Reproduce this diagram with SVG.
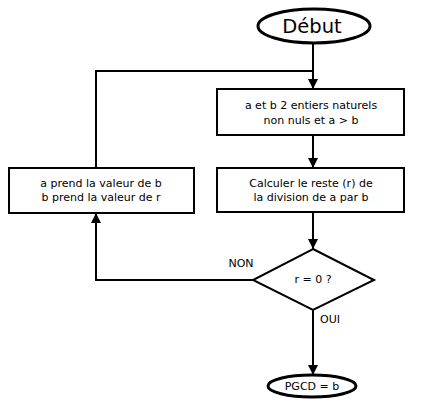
<svg xmlns="http://www.w3.org/2000/svg" width="425" height="412" viewBox="0 0 425 412">
<style>
text{font-family:"DejaVu Sans",Verdana,sans-serif;font-size:11px;fill:#000;text-anchor:middle}
.box{fill:#fff;stroke:#000;stroke-width:2}
.term{fill:#fff;stroke:#000;stroke-width:3}
.line{fill:none;stroke:#000;stroke-width:2}
</style>
<defs>
<marker id="arr" viewBox="0 0 10 10" refX="10" refY="5" markerWidth="10" markerHeight="10" markerUnits="userSpaceOnUse" orient="auto">
<path d="M0,0 L10,5 L0,10 Z" fill="#000"/>
</marker>
</defs>
<rect width="425" height="412" fill="#fff"/>
<g id="connectors">
<path class="line" d="M313,43 V89" marker-end="url(#arr)"/>
<path class="line" d="M96,168 V71 H313"/>
<path class="line" d="M313,135 V168" marker-end="url(#arr)"/>
<path class="line" d="M313,212 V249" marker-end="url(#arr)"/>
<path class="line" d="M253,280 H96 V213" marker-end="url(#arr)"/>
<path class="line" d="M313,310 V375" marker-end="url(#arr)"/>
<text x="241" y="267">NON</text>
<text x="320" y="323" style="text-anchor:start">OUI</text>
</g>
<g id="debut">
<ellipse class="term" cx="314" cy="26" rx="56" ry="17"/>
<text x="312" y="33" style="font-size:19.5px">Début</text>
</g>
<g id="init">
<rect class="box" x="217" y="89" width="187" height="46"/>
<text x="311" y="109">a et b 2 entiers naturels</text>
<text x="311" y="124">non nuls et a &gt; b</text>
</g>
<g id="calc">
<rect class="box" x="217" y="168" width="187" height="44"/>
<text x="311" y="187">Calculer le reste (r) de</text>
<text x="311" y="201">la division de a par b</text>
</g>
<g id="swap">
<rect class="box" x="9" y="168" width="185" height="45"/>
<text x="101" y="187">a prend la valeur de b</text>
<text x="101" y="201">b prend la valeur de r</text>
</g>
<g id="test">
<polygon class="box" points="313,249 374,280 313,310 253,280"/>
<text x="313" y="283">r = 0 ?</text>
</g>
<g id="fin">
<ellipse class="term" cx="312" cy="386" rx="44" ry="11"/>
<text x="312" y="390">PGCD = b</text>
</g>
</svg>
